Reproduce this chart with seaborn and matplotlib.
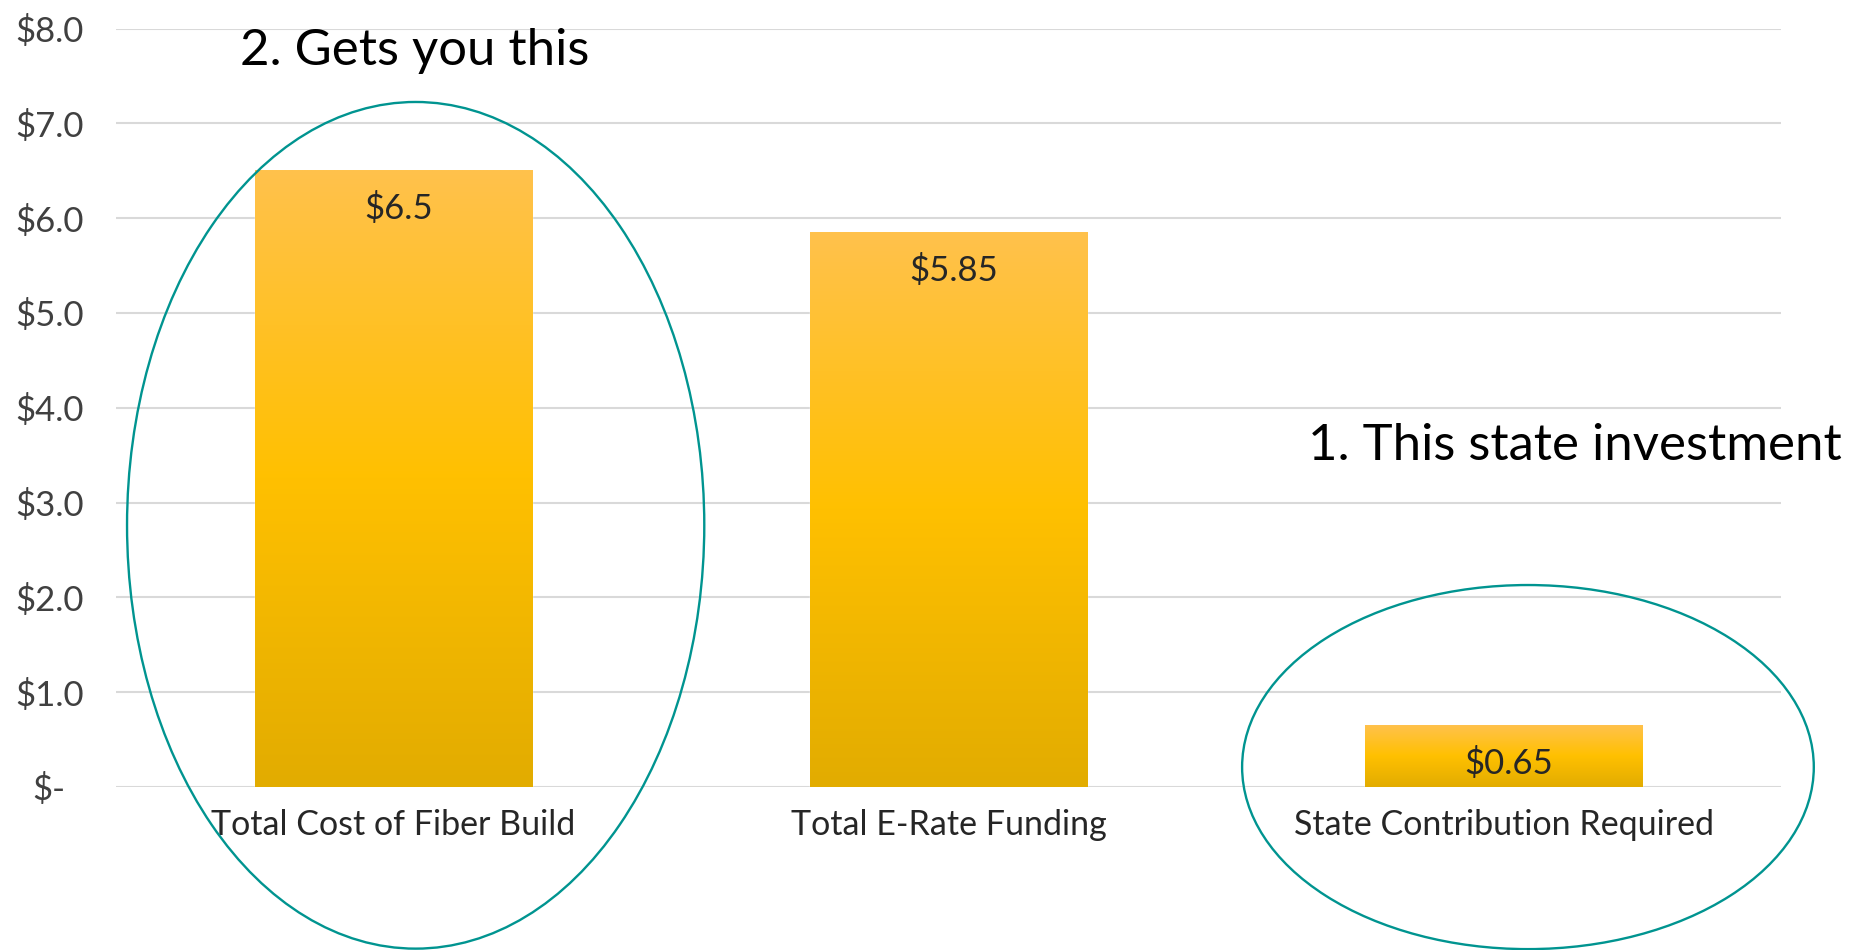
import numpy as np
import matplotlib
matplotlib.use("Agg")
import matplotlib.pyplot as plt
from matplotlib.colors import LinearSegmentedColormap
from matplotlib.patches import Ellipse
from matplotlib.ticker import FuncFormatter
import seaborn as sns

# data (billions of dollars)
categories = ["Total Cost of Fiber Build", "Total E-Rate Funding", "State Contribution Required"]
values = [6.5, 5.85, 0.65]
y_ticks = [0, 1, 2, 3, 4, 5, 6, 7, 8]

sns.set_theme(style="white")
plt.rcParams['font.family'] = ['Lato', 'DejaVu Sans']

fig = plt.figure(figsize=(18.64, 9.5), dpi=100)
ax = fig.add_axes([0.0622, 0.1716, 0.8933, 0.7984])

sns.barplot(x=categories, y=values, color="#FFC000", width=0.5, ax=ax, zorder=3)

# excel-like vertical gradient on each bar
grad_cmap = LinearSegmentedColormap.from_list(
    "gold", [(0.0, "#E2AC00"), (0.5, "#FFC000"), (1.0, "#FFC24C")])
grad = np.linspace(0, 1, 256).reshape(-1, 1)
for p in ax.patches:
    x0, y0, w, h = p.get_x(), p.get_y(), p.get_width(), p.get_height()
    ax.imshow(grad, extent=[x0, x0 + w, y0, y0 + h], origin="lower",
              aspect="auto", cmap=grad_cmap, zorder=3.5)
ax.set_xlim(-0.5, 2.5)
ax.set_ylim(0, 8)

txts = ax.bar_label(ax.containers[0], labels=[f"${v:g}" for v in values],
                    padding=-39, fontsize=25, color="#262626", zorder=5)
for t in txts:
    t.xyann = (3.5, t.xyann[1])

ax.set_yticks(y_ticks)
ax.yaxis.set_major_formatter(FuncFormatter(lambda v, pos: "$-" if v == 0 else f"${v:.1f}"))
ax.tick_params(axis="y", length=0, pad=48, labelsize=25, labelcolor="#404040")
for lbl in ax.get_yticklabels():
    lbl.set_ha("center")
ax.tick_params(axis="x", length=0, pad=16, labelsize=24.5, labelcolor="#262626")
ax.grid(axis="y", color="#D9D9D9", linewidth=1.5, zorder=0)
ax.set_axisbelow(True)
for s in ax.spines.values():
    s.set_visible(False)
ax.set_xlabel("")
ax.set_ylabel("")

# callout ellipses
teal = "#009490"
ax.add_patch(Ellipse((0.04, 2.76), 1.04, 8.93, fill=False, edgecolor=teal,
                     linewidth=1.7, clip_on=False, zorder=6))
ax.add_patch(Ellipse((2.044, 0.21), 1.03, 3.84, fill=False, edgecolor=teal,
                     linewidth=1.7, clip_on=False, zorder=6))

fig.text(240 / 1864, 1 - 51 / 950, "2. Gets you this", fontsize=36.6,
         color="black", va="center", ha="left")
fig.text(1308 / 1864, 1 - 446 / 950, "1. This state investment", fontsize=36.6,
         color="black", va="center", ha="left")

fig.savefig("out.png", dpi=100, facecolor="white")
